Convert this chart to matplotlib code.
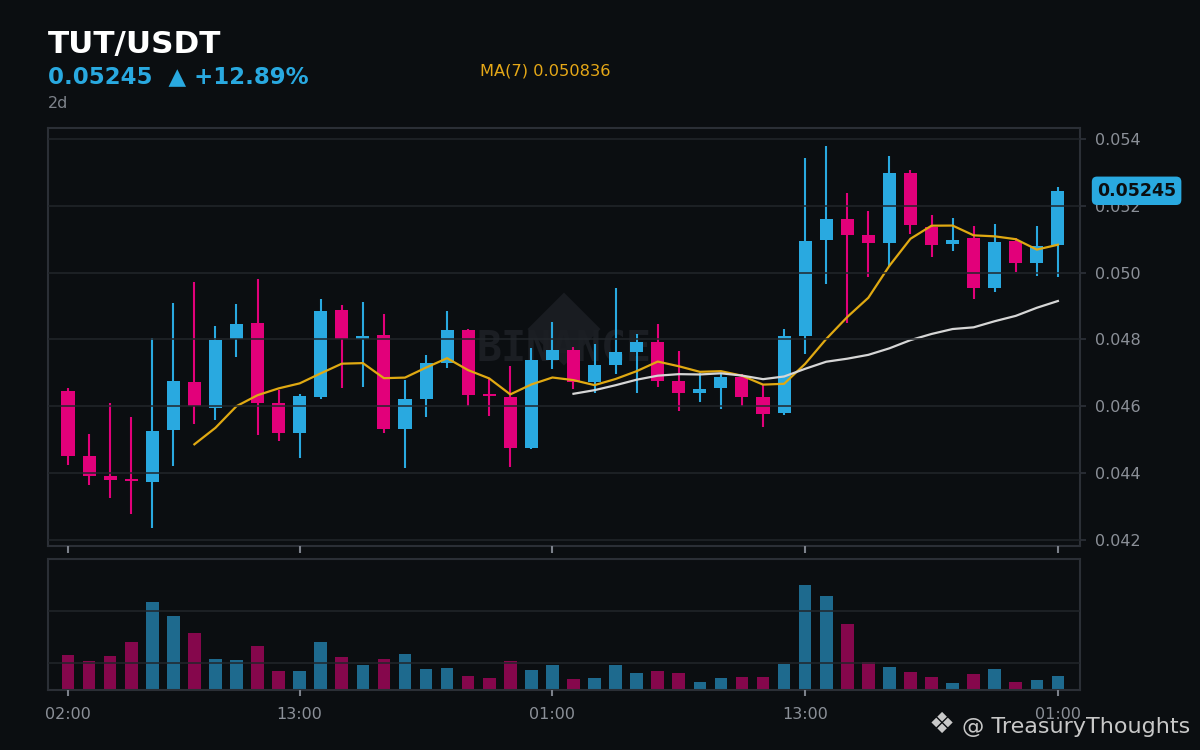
import matplotlib
matplotlib.use("Agg")
import matplotlib.pyplot as plt
import matplotlib.transforms as mtransforms
from matplotlib.patches import Polygon
import numpy as np
import pandas as pd

# hourly candles, TUT/USDT
open_ = [0.04646, 0.04451, 0.04391, 0.04379, 0.04374, 0.04527, 0.04672, 0.04593,
         0.04802, 0.04849, 0.04609, 0.04518, 0.04628, 0.04888, 0.04802, 0.04813,
         0.04532, 0.04622, 0.04730, 0.04828, 0.04634, 0.04628, 0.04475, 0.04738,
         0.04768, 0.04673, 0.04723, 0.04763, 0.04793, 0.04675, 0.04640, 0.04655,
         0.04688, 0.04628, 0.04578, 0.04811, 0.05099, 0.05160, 0.05112, 0.05090,
         0.05298, 0.05137, 0.05087, 0.05105, 0.04955, 0.05095, 0.05030, 0.05084]
high = [0.04654, 0.04517, 0.04609, 0.04568, 0.04804, 0.04908, 0.04972, 0.04840,
        0.04906, 0.04981, 0.04649, 0.04636, 0.04921, 0.04903, 0.04912, 0.04876,
        0.04678, 0.04753, 0.04885, 0.04831, 0.04681, 0.04720, 0.04773, 0.04851,
        0.04776, 0.04786, 0.04953, 0.04816, 0.04846, 0.04765, 0.04700, 0.04699,
        0.04695, 0.04663, 0.04830, 0.05342, 0.05379, 0.05237, 0.05184, 0.05349,
        0.05307, 0.05172, 0.05163, 0.05140, 0.05145, 0.05103, 0.05140, 0.05255]
low = [0.04425, 0.04365, 0.04326, 0.04278, 0.04236, 0.04422, 0.04545, 0.04557,
       0.04748, 0.04512, 0.04497, 0.04446, 0.04622, 0.04655, 0.04658, 0.04518,
       0.04414, 0.04566, 0.04715, 0.04601, 0.04571, 0.04419, 0.04472, 0.04710,
       0.04651, 0.04639, 0.04696, 0.04639, 0.04657, 0.04584, 0.04613, 0.04591,
       0.04599, 0.04536, 0.04573, 0.04757, 0.04967, 0.04848, 0.04988, 0.05018,
       0.05116, 0.05048, 0.05066, 0.04922, 0.04943, 0.05003, 0.04991, 0.04988]
close = [0.04452, 0.04392, 0.04380, 0.04375, 0.04526, 0.04675, 0.04599, 0.04798,
         0.04846, 0.04610, 0.04518, 0.04631, 0.04885, 0.04802, 0.04810, 0.04530,
         0.04622, 0.04728, 0.04828, 0.04634, 0.04629, 0.04475, 0.04738, 0.04768,
         0.04673, 0.04723, 0.04763, 0.04793, 0.04676, 0.04640, 0.04651, 0.04687,
         0.04628, 0.04576, 0.04810, 0.05095, 0.05160, 0.05113, 0.05090, 0.05298,
         0.05143, 0.05084, 0.05098, 0.04955, 0.05092, 0.05030, 0.05080, 0.05245]
volume = [1.161, 1.045, 1.142, 1.413, 2.168, 1.897, 1.587, 1.084, 1.065, 1.336,
          0.852, 0.852, 1.413, 1.123, 0.968, 1.084, 1.181, 0.890, 0.910, 0.755,
          0.716, 1.045, 0.871, 0.968, 0.697, 0.716, 0.968, 0.813, 0.852, 0.813,
          0.639, 0.716, 0.736, 0.736, 0.987, 2.497, 2.284, 1.742, 1.026, 0.929,
          0.832, 0.736, 0.619, 0.794, 0.890, 0.639, 0.678, 0.755]
tick_pos = [0, 11, 23, 35, 47]
tick_labels = ["02:00", "13:00", "01:00", "13:00", "01:00"]
price_ticks = [0.042, 0.044, 0.046, 0.048, 0.050, 0.052, 0.054]

BG = "#0b0e11"
UP = "#29a9e0"
DOWN = "#e2007a"
UP_VOL = "#1e6a8e"
DOWN_VOL = "#85074c"
GRID = "#22262b"
SPINE = "#2b2f36"
TXT = "#8b9098"

x = np.arange(len(close))
o = np.array(open_)
c = np.array(close)
up = c >= o
ma7 = pd.Series(close).rolling(7).mean()
ma25 = pd.Series(close).rolling(25).mean()

fig = plt.figure(figsize=(12, 7.5), dpi=100, facecolor=BG)
ax = fig.add_axes([0.04, 0.272, 0.86, 0.5573], facecolor=BG)
axv = fig.add_axes([0.04, 0.08, 0.86, 0.1747], facecolor=BG)

# watermark
ax.add_patch(Polygon([[0.5, 0.519 + 0.0873], [0.5 + 0.0354, 0.519],
                      [0.5, 0.519 - 0.0873], [0.5 - 0.0354, 0.519]],
                     closed=True, transform=ax.transAxes, color="#191c21",
                     zorder=0.3, lw=0))
ax.text(0.5, 0.469, "BINANCE", transform=ax.transAxes, ha="center", va="center",
        fontsize=30, family="DejaVu Sans Mono", fontweight="bold",
        color="#1b1e23", zorder=0.4)

cols = np.where(up, UP, DOWN)
body_lo = np.minimum(o, c)
body_h = np.maximum(np.abs(c - o), 0.00008)
ax.vlines(x, low, high, colors=cols, lw=1.5, zorder=1)
ax.bar(x, body_h, bottom=body_lo, width=0.62, color=cols, zorder=1.2)
ax.plot(x, ma7, color="#e0a912", lw=1.6, zorder=2)
ax.plot(x, ma25, color="#d6d6d6", lw=1.6, zorder=2)

ax.set_xlim(-0.95, 48.05)
ax.set_ylim(0.04181, 0.05433)
ax.set_yticks(price_ticks)
ax.set_yticklabels(["%.3f" % v for v in price_ticks])
ax.yaxis.tick_right()
ax.set_xticks(tick_pos)
ax.set_xticklabels([])
ax.set_axisbelow(False)
ax.grid(axis="y", color=GRID, lw=1.1)
ax.tick_params(axis="y", colors=SPINE, labelcolor=TXT, labelsize=11.5,
               length=4.5, width=1.3, pad=6.5)
ax.tick_params(axis="x", colors="#7c818a", length=5, width=1.5)
for s in ax.spines.values():
    s.set_color(SPINE)
    s.set_linewidth(1.5)

# last price tag
trans = mtransforms.blended_transform_factory(ax.transAxes, ax.transData)
ax.text(1.0165, close[-1], "%.5f" % close[-1], transform=trans, ha="left",
        va="center", fontsize=12.5, fontweight="bold", color=BG,
        bbox=dict(boxstyle="round,pad=0.3", fc=UP, ec="none"), clip_on=False)

# volume
axv.bar(x, volume, width=0.6, color=np.where(up, UP_VOL, DOWN_VOL), zorder=1)
axv.set_xlim(-0.95, 48.05)
axv.set_ylim(0.484, 3.0)
axv.set_yticks([1, 2])
axv.set_yticklabels([])
axv.tick_params(axis="y", length=0)
axv.set_xticks(tick_pos)
axv.set_xticklabels(tick_labels)
axv.tick_params(axis="x", colors="#7c818a", labelcolor=TXT, labelsize=11.5,
                length=4, width=1.5, pad=8)
axv.set_axisbelow(False)
axv.grid(axis="y", color=GRID, lw=1.1)
for s in axv.spines.values():
    s.set_color(SPINE)
    s.set_linewidth(1.5)

# header
fig.text(0.04, 0.929, "TUT/USDT", fontsize=22.3, fontweight="bold",
         color="white", va="baseline")
fig.text(0.04, 0.8897, "%.5f  \u25b2 +12.89%%" % close[-1], fontsize=16.5,
         fontweight="bold", color=UP, va="baseline")
fig.text(0.04, 0.8556, "2d", fontsize=11.5, color="#7d828a", va="baseline")
fig.text(0.4, 0.8987, "MA(7) %.6f" % 0.050836, fontsize=11.7, color="#e6a817",
         va="baseline")

fig.text(0.7735, 0.0227, "\u2756", fontsize=21, color="#c8c8c8", ha="left",
         va="baseline")
fig.text(0.992, 0.0227, "@ TreasuryThoughts", fontsize=16, color="#c8c8c8",
         ha="right", va="baseline")

fig.savefig("out.png", dpi=100, facecolor=BG)
